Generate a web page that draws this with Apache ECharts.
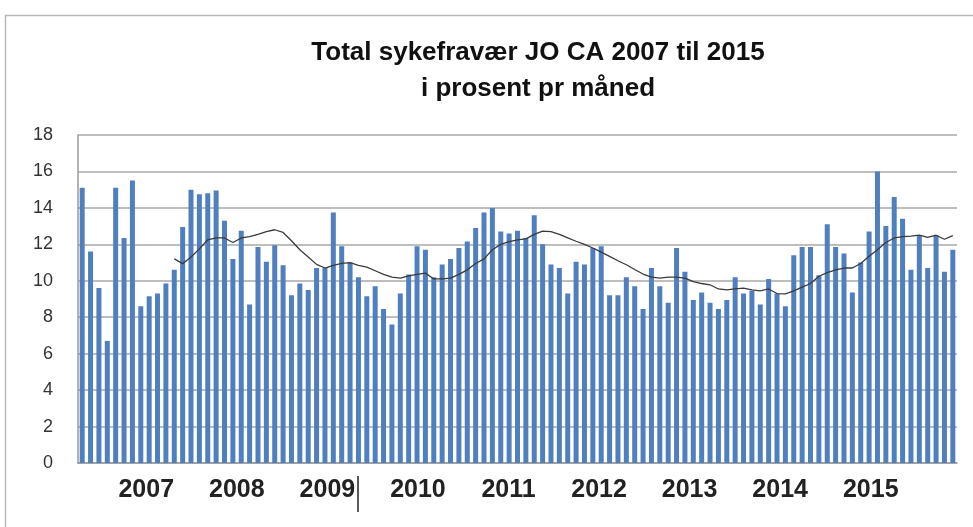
<!DOCTYPE html>
<html>
<head>
<meta charset="utf-8">
<script src="https://cdn.jsdelivr.net/npm/echarts@6/dist/echarts.min.js"></script>
<style>
  html, body { margin: 0; padding: 0; background: #fff; }
  #main { width: 973px; height: 527px; }
</style>
</head>
<body>
<div id="main"></div>
<script>
// års-etiketter under grafen
var years = ['2007', '2008', '2009', '2010', '2011', '2012', '2013', '2014', '2015'];

// sykefravær i prosent pr måned (jan 2007 - sep 2015)
var sickPct = [
    15.1, 11.6, 9.6, 6.7, 15.1, 12.35, 15.5, 8.6, 9.15, 9.3, 9.85, 10.6,
    12.95, 15.0, 14.75, 14.8, 14.95, 13.3, 11.2, 12.75, 8.7, 11.85, 11.05, 11.95,
    10.85, 9.2, 9.85, 9.5, 10.7, 10.7, 13.75, 11.9, 11.0, 10.2, 9.15, 9.7,
    8.45, 7.6, 9.3, 10.35, 11.9, 11.7, 10.2, 10.9, 11.2, 11.8, 12.15, 12.9,
    13.75, 14.0, 12.7, 12.6, 12.75, 12.35, 13.6, 12.0, 10.9, 10.7, 9.3, 11.05,
    10.9, 11.8, 11.9, 9.2, 9.2, 10.2, 9.7, 8.45, 10.7, 9.7, 8.8, 11.8,
    10.5, 8.95, 9.35, 8.8, 8.45, 8.95, 10.2, 9.3, 9.45, 8.7, 10.1, 9.3,
    8.6, 11.4, 11.85, 11.85, 10.3, 13.1, 11.85, 11.5, 9.35, 11.0, 12.7, 16.0,
    13.0, 14.6, 13.4, 10.6, 12.5, 10.7, 12.5, 10.5, 11.7
];

// glidende snitt (trendlinje), avlest fra måned 12
var trendLine = [
    11.2, 10.94, 11.3, 11.75, 12.25, 12.35, 12.35, 12.1, 12.35, 12.42, 12.55, 12.7,
    12.8, 12.65, 12.2, 11.7, 11.3, 10.9, 10.7, 10.85, 10.95, 11.0, 10.85, 10.75,
    10.55, 10.35, 10.2, 10.15, 10.27, 10.35, 10.42, 10.1, 10.1, 10.15, 10.35, 10.6,
    10.95, 11.2, 11.7, 12.0, 12.15, 12.25, 12.3, 12.55, 12.72, 12.7, 12.55, 12.35,
    12.17, 12.0, 11.8, 11.57, 11.34, 11.1, 10.88, 10.62, 10.37, 10.2, 10.15, 10.2,
    10.2, 10.15, 9.95, 9.85, 9.78, 9.55, 9.5, 9.55, 9.6, 9.5, 9.45, 9.55,
    9.3, 9.28, 9.45, 9.65, 9.85, 10.25, 10.45, 10.6, 10.7, 10.7, 10.95, 11.35,
    11.7, 12.1, 12.35, 12.42, 12.45, 12.5, 12.38, 12.5, 12.28, 12.48
];

var months = [];
for (var i = 0; i < sickPct.length; i++) {
    months.push(String(2007 + Math.floor(i / 12)) + '-' + (i % 12 + 1));
}
var trendData = [];
for (var j = 0; j < sickPct.length - trendLine.length; j++) trendData.push(null);
trendData = trendData.concat(trendLine);

var myChart = echarts.init(document.getElementById('main'), null, { renderer: 'canvas' });

var option = {
    backgroundColor: '#fff',
    animation: false,
    title: {
        text: 'Total sykefravær JO CA 2007 til 2015\ni prosent pr måned',
        left: 533,
        top: 30,
        textAlign: 'center',
        textStyle: {
            fontFamily: 'Liberation Sans, sans-serif',
            fontWeight: 'bold',
            fontSize: 26,
            lineHeight: 36,
            color: '#111'
        }
    },
    graphic: [
        {
            type: 'rect',
            shape: { x: 5.5, y: 15.5, width: 1000, height: 600 },
            style: { fill: 'none', stroke: '#b8b8b8', lineWidth: 1.5 }
        },
        {
            type: 'line',
            shape: { x1: 358, y1: 476, x2: 358, y2: 512 },
            style: { stroke: '#222', lineWidth: 1.5 }
        }
    ],
    grid: [
        { left: 78, right: 16, top: 135, bottom: 64 },
        { left: 101, width: 815, top: 462, height: 1, show: false }
    ],
    xAxis: [
        {
            type: 'category',
            gridIndex: 0,
            data: months,
            axisLine: { lineStyle: { color: '#9a9a9a', width: 1.5 } },
            axisTick: { show: false },
            axisLabel: { show: false }
        },
        {
            type: 'category',
            gridIndex: 1,
            data: years,
            axisLine: { show: false },
            axisTick: { show: false },
            axisLabel: {
                margin: 15,
                fontFamily: 'Liberation Sans, sans-serif',
                fontWeight: 'bold',
                fontSize: 25,
                color: '#222'
            }
        }
    ],
    yAxis: [
        {
            type: 'value',
            gridIndex: 0,
            min: 0,
            max: 18,
            interval: 2,
            axisLine: { show: true, lineStyle: { color: '#9a9a9a', width: 1.5 } },
            axisTick: { show: false },
            splitLine: { lineStyle: { color: '#a8a8a8', width: 1.5 } },
            axisLabel: {
                margin: 25,
                fontFamily: 'Liberation Sans, Arial, sans-serif',
                fontSize: 18,
                color: '#333'
            }
        },
        {
            type: 'value',
            gridIndex: 1,
            show: false
        }
    ],
    series: [
        {
            name: 'Sykefravær',
            type: 'bar',
            xAxisIndex: 0,
            yAxisIndex: 0,
            data: sickPct,
            barWidth: 5,
            itemStyle: { color: '#4f7fbe' }
        },
        {
            name: 'Trend',
            type: 'line',
            xAxisIndex: 0,
            yAxisIndex: 0,
            data: trendData,
            showSymbol: false,
            symbol: 'none',
            lineStyle: { color: '#3a3a3a', width: 1.3 }
        }
    ]
};

myChart.setOption(option);
</script>
</body>
</html>
